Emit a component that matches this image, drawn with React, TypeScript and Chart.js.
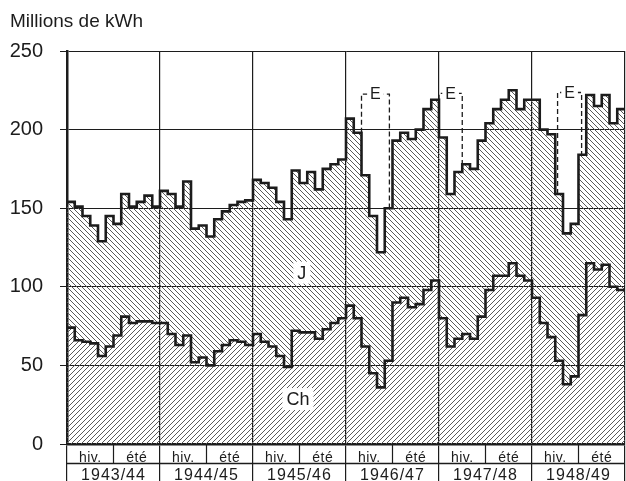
import React, { useEffect, useRef } from "react";
import { Chart, registerables } from "chart.js";

Chart.register(...registerables);

// ---- data ----
const unitTitle = "Millions de kWh";
const seasons = ["1943/44", "1944/45", "1945/46", "1946/47", "1947/48", "1948/49"];
const seasonHalves = ["hiv.", "été"];
const yTickStep = 50;
const yMax = 250;

// total production (upper stepped line), one value per month, Oct..Sep
const totalProduction = [
  154, 151, 145, 139, 129, 145, 140, 159, 151, 154, 158, 151,
  161, 159, 151, 167, 137, 139, 132, 143, 148, 152, 154, 155,
  168, 166, 163, 154, 143, 174, 166, 173, 162, 175, 178, 181,
  207, 198, 171, 145, 122, 150, 193, 198, 194, 200, 213, 219,
  195, 159, 173, 178, 175, 193, 204, 213, 219, 225, 213, 219,
  219, 200, 197, 159, 134, 140, 184, 222, 215, 222, 204, 213,
];

// "Ch" part (lower stepped line)
const thermalCh = [
  74, 66, 65, 64, 56, 62, 69, 81, 77, 78, 78, 77,
  77, 70, 63, 69, 52, 55, 50, 59, 63, 66, 65, 63,
  70, 65, 62, 56, 49, 72, 71, 71, 67, 73, 77, 80,
  88, 80, 62, 45, 36, 53, 90, 93, 87, 89, 98, 104,
  80, 62, 67, 70, 67, 81, 98, 107, 107, 115, 107, 104,
  93, 77, 68, 53, 38, 43, 82, 115, 111, 114, 100, 98,
];

// dashed "E" boxes (month positions and values)
const eBoxStart = [38, 48, 63.3];
const eBoxEnd = [41.6, 51, 66.4];
const eBoxTop = [222.6, 223, 223.6];
const eBoxLeftBase = [198, 219, 159];
const eBoxRightBase = [150, 178, 184];
const eLabel = "E";

// area labels (month position, value)
const areaLabelText = ["J", "Ch"];
const areaLabelMonth = [30.3, 29.8];
const areaLabelValue = [109, 28.6];

const INK = "#1c1c1c";
const FONT = "'Liberation Sans', Arial, sans-serif";

function toSteps(vals: number[]) {
  const pts = vals.map((y, i) => ({ x: i, y }));
  pts.push({ x: vals.length, y: vals[vals.length - 1] });
  return pts;
}

function makeHatch(target: CanvasRenderingContext2D, forward: boolean, size: number, color: string) {
  const c = document.createElement("canvas");
  c.width = size;
  c.height = size;
  const g = c.getContext("2d")!;
  g.strokeStyle = color;
  g.lineWidth = 1;
  g.beginPath();
  for (const o of [-size, 0, size]) {
    if (forward) {
      g.moveTo(o, size);
      g.lineTo(o + size, 0);
    } else {
      g.moveTo(o, 0);
      g.lineTo(o + size, size);
    }
  }
  g.stroke();
  return target.createPattern(c, "repeat");
}

const annotationPlugin = {
  id: "annotations",
  afterDraw(chart: any) {
    const { ctx, chartArea, scales } = chart;
    const xs = scales.x;
    const ys = scales.y;
    ctx.save();

    // title
    ctx.fillStyle = INK;
    ctx.font = `19px ${FONT}`;
    ctx.textAlign = "left";
    ctx.textBaseline = "alphabetic";
    ctx.fillText(unitTitle, 10, 27);

    // area labels
    ctx.font = `18px ${FONT}`;
    ctx.textAlign = "center";
    ctx.textBaseline = "middle";
    areaLabelText.forEach((t, k) => {
      const px = xs.getPixelForValue(areaLabelMonth[k]);
      const py = ys.getPixelForValue(areaLabelValue[k]);
      const w = ctx.measureText(t).width + 8;
      ctx.fillStyle = "#fff";
      ctx.fillRect(px - w / 2, py - 11, w, 22);
      ctx.fillStyle = INK;
      ctx.fillText(t, px, py + 1);
    });

    // E labels
    ctx.font = `16px ${FONT}`;
    eBoxStart.forEach((s, k) => {
      const px = (xs.getPixelForValue(s) + xs.getPixelForValue(eBoxEnd[k])) / 2;
      const py = ys.getPixelForValue(eBoxTop[k]);
      const w = ctx.measureText(eLabel).width + 6;
      ctx.fillStyle = "#fff";
      ctx.fillRect(px - w / 2, py - 8, w, 16);
      ctx.fillStyle = INK;
      ctx.fillText(eLabel, px, py + 1);
    });

    // season table under the axis
    const bottom = chartArea.bottom;
    const rowY = bottom + 19.5;
    ctx.strokeStyle = INK;
    ctx.lineWidth = 1.5;
    ctx.beginPath();
    ctx.moveTo(chartArea.left, rowY);
    ctx.lineTo(chartArea.right, rowY);
    ctx.stroke();
    ctx.lineWidth = 1.2;
    ctx.textBaseline = "alphabetic";
    seasons.forEach((label, k) => {
      const x0 = xs.getPixelForValue(k * 12);
      const xm = xs.getPixelForValue(k * 12 + 6);
      const x1 = xs.getPixelForValue(k * 12 + 12);
      ctx.beginPath();
      ctx.moveTo(xm, bottom);
      ctx.lineTo(xm, rowY);
      ctx.stroke();
      ctx.fillStyle = INK;
      ctx.font = `14px ${FONT}`;
      (ctx as any).letterSpacing = "0.5px";
      ctx.fillText(seasonHalves[0], (x0 + xm) / 2, bottom + 18);
      ctx.fillText(seasonHalves[1], (xm + x1) / 2, bottom + 18);
      ctx.font = `16px ${FONT}`;
      (ctx as any).letterSpacing = "1px";
      ctx.fillText(label, (x0 + x1) / 2, bottom + 36);
      (ctx as any).letterSpacing = "0px";
    });
    ctx.restore();
  },
};

export default function App() {
  const canvasRef = useRef<HTMLCanvasElement | null>(null);

  useEffect(() => {
    const canvas = canvasRef.current!;
    const ctx2d = canvas.getContext("2d")!;
    const chPattern = makeHatch(ctx2d, true, 5, "#5a5a5a");
    const jPattern = makeHatch(ctx2d, false, 5, "#5a5a5a");

    const eDatasets = eBoxStart.map((s, k) => ({
      label: "E" + k,
      data: [
        { x: s, y: eBoxLeftBase[k] },
        { x: s, y: eBoxTop[k] },
        { x: eBoxEnd[k], y: eBoxTop[k] },
        { x: eBoxEnd[k], y: eBoxRightBase[k] },
      ],
      borderColor: INK,
      borderWidth: 1.3,
      borderDash: [5, 3],
      fill: false,
      pointRadius: 0,
      tension: 0,
    }));

    const chart = new Chart(canvas, {
      type: "line",
      data: {
        datasets: [
          {
            label: "Ch",
            data: toSteps(thermalCh),
            stepped: true,
            borderColor: INK,
            borderWidth: 2.6,
            pointRadius: 0,
            fill: "origin",
            backgroundColor: chPattern as any,
          },
          {
            label: "Total",
            data: toSteps(totalProduction),
            stepped: true,
            borderColor: INK,
            borderWidth: 2.6,
            pointRadius: 0,
            fill: "-1",
            backgroundColor: jPattern as any,
          },
          ...eDatasets,
        ] as any,
      },
      options: {
        animation: false,
        responsive: false,
        devicePixelRatio: 1,
        events: [],
        layout: { padding: { top: 51, right: 1, left: 0, bottom: 0 } },
        plugins: {
          legend: { display: false },
          tooltip: { enabled: false },
          filler: { drawTime: "beforeDatasetsDraw" } as any,
        },
        scales: {
          x: {
            type: "linear",
            min: 0,
            max: seasons.length * 12,
            ticks: { display: false, stepSize: 12 },
            grid: { color: INK, lineWidth: 1.2, drawTicks: true, tickLength: 37 },
            border: { display: true, color: INK, width: 2.5 },
            afterFit: (s: any) => {
              s.height = 37;
            },
          },
          y: {
            type: "linear",
            min: 0,
            max: yMax,
            ticks: {
              stepSize: yTickStep,
              color: INK,
              padding: 17,
              font: { family: FONT, size: 20 },
            },
            grid: { color: INK, lineWidth: 1, drawTicks: true, tickLength: 7 },
            border: { display: true, color: INK, width: 2.5 },
            afterFit: (s: any) => {
              s.width = 67;
            },
          },
        },
      },
      plugins: [annotationPlugin],
    });
    return () => chart.destroy();
  }, []);

  return (
    <div style={{ position: "absolute", left: 0, top: 0, width: 626, height: 481, background: "#fff" }}>
      <canvas ref={canvasRef} width={626} height={481} style={{ display: "block" }} />
    </div>
  );
}
